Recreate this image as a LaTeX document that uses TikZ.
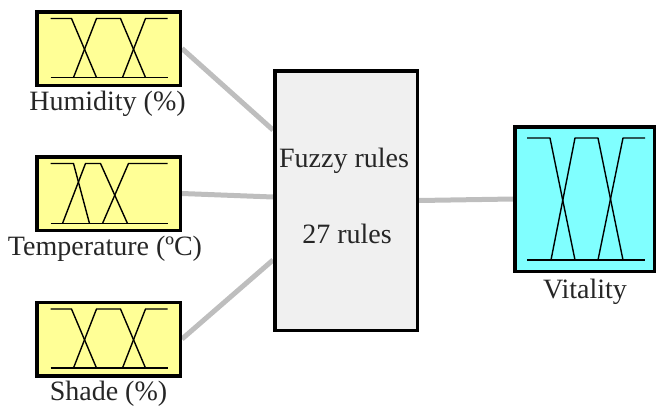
\documentclass[tikz,border=0pt]{standalone}
\usepackage{fontspec}
\setmainfont{Liberation Serif}
\usetikzlibrary{calc,shadows,backgrounds}
\definecolor{mfyellow}{RGB}{255,255,150}
\definecolor{mfcyan}{RGB}{128,255,255}
\definecolor{rulegray}{RGB}{240,240,240}
\definecolor{linkgray}{RGB}{190,190,190}
\begin{document}
\begin{tikzpicture}[x=1pt,y=-1pt,
  boxbase/.style={draw=black,line width=3.5pt,inner sep=0pt,
    drop shadow={shadow xshift=1.5pt,shadow yshift=-1.5pt,fill=black,opacity=0.25}},
  inbox/.style={boxbase,fill=mfyellow,minimum width=143.5pt,minimum height=73.5pt},
  outbox/.style={boxbase,fill=mfcyan,minimum width=139.5pt,minimum height=144.5pt},
  rulebox/.style={boxbase,fill=rulegray,minimum width=142.5pt,minimum height=259.5pt},
  lbl/.style={anchor=base,inner sep=0pt,font=\rmfamily\fontsize{28}{30}\selectfont,text=black!85},
  mf/.style={line width=1.4pt,line join=round},
  link/.style={draw=linkgray,line width=5pt}]
\useasboundingbox (0,0) rectangle (657,410);

% boxes
\node[inbox] (hum) at (108.5,48.5) {};
\node[inbox] (temp) at (108.5,193.5) {};
\node[inbox] (shade) at (108.5,339) {};
\node[rulebox] (fz) at (346,200.5) {};
\node[outbox] (vit) at (584.5,199) {};

% labels
\node[lbl] (humL) at (107.5,110) {Humidity (\%)};
\node[lbl] (tempL) at (105,255) {Temperature (ºC)};
\node[lbl] (shadeL) at (108.5,400) {Shade (\%)};
\node[lbl] (vitL) at (585,298) {Vitality};
\node[lbl] (fzt1) at (344,167) {Fuzzy rules};
\node[lbl] (fzt2) at (347,243) {27 rules};

% membership functions
\begin{scope}[shift={(hum.center)}]
  \draw[mf] (-58,29) -- (59,29);
  \draw[mf] (-58,-30) -- (-37,-30) -- (-12,29);
  \draw[mf] (-35,29) -- (-12,-30) -- (12,-30) -- (37,29);
  \draw[mf] (14,29) -- (37,-30) -- (59,-30);
\end{scope}
\begin{scope}[shift={(shade.center)}]
  \draw[mf] (-58,29) -- (59,29);
  \draw[mf] (-58,-30) -- (-37,-30) -- (-12,29);
  \draw[mf] (-35,29) -- (-12,-30) -- (12,-30) -- (37,29);
  \draw[mf] (14,29) -- (37,-30) -- (59,-30);
\end{scope}
\begin{scope}[shift={(temp.center)}]
  \draw[mf] (-58,30) -- (59,30);
  \draw[mf] (-58,-30) -- (-35,-30) -- (-19,30);
  \draw[mf] (-46,30) -- (-23,-30) -- (-8,-30) -- (19,30);
  \draw[mf] (-6,30) -- (20,-30) -- (59,-30);
\end{scope}
\begin{scope}[shift={(vit.center)}]
  \draw[mf] (-57.5,61) -- (60.5,61);
  \draw[mf] (-57.5,-61) -- (-34.5,-61) -- (-9.5,61);
  \draw[mf] (-33.5,61) -- (-9.5,-61) -- (13.5,-61) -- (38.5,61);
  \draw[mf] (13.5,61) -- (38.5,-61) -- (60.5,-61);
\end{scope}

% connectors
\coordinate (fzin1) at ($(fz.west)+(0,-70.5)$);
\coordinate (fzin2) at ($(fz.west)+(0,-3.5)$);
\coordinate (fzin3) at ($(fz.west)+(0,59.5)$);
\begin{pgfonlayer}{background}
  \draw[link] (hum.east) -- (fzin1);
  \draw[link] (temp.east) -- (fzin2);
  \draw[link] (shade.east) -- (fzin3);
  \draw[link] (fz.east) -- (vit.west);
\end{pgfonlayer}
\end{tikzpicture}
\end{document}
